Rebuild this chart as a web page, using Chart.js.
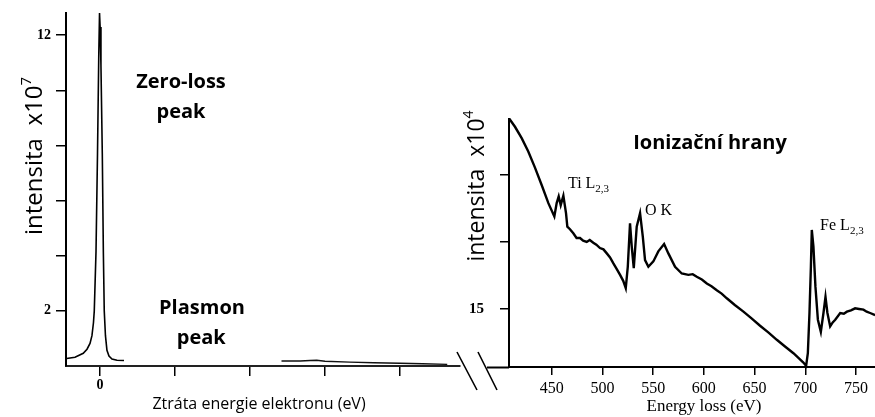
<!DOCTYPE html>
<html>
<head>
<meta charset="utf-8">
<script src="https://cdn.jsdelivr.net/npm/chart.js@4.4.1/dist/chart.umd.min.js"></script>
<style>
  html, body { margin: 0; padding: 0; background: #fff; }
  #wrap { position: relative; width: 875px; height: 417px; overflow: hidden; }
  canvas { position: absolute; top: 0; }
  #left { left: 0; }
  #right { left: 440px; }
</style>
</head>
<body>
<div id="wrap">
  <canvas id="left" width="470" height="417"></canvas>
  <canvas id="right" width="435" height="417"></canvas>
</div>
<script>
// ---------- Left panel: low-loss region (intensity x10^7) ----------
const zeroLossEnergy = [-4.44, -3.33, -2.23, -1.73, -1.33, -1.07, -0.87, -0.76, -0.53, -0.33, -0.16, -0.06, 0.02, 0.13, 0.31, 0.45, 0.57, 0.73, 0.93, 1.2, 1.6, 2.27, 3.2];
const zeroLossIntensity = [0.27, 0.32, 0.46, 0.61, 0.82, 1.1, 1.57, 2.0, 4.14, 7.7, 11.3, 12.8, 12.3, 10.9, 7.7, 4.14, 2.0, 1.1, 0.57, 0.36, 0.25, 0.21, 0.2];
const plasmonEnergy = [24.2, 26.7, 28.0, 28.9, 30.0, 33.3, 36.5, 40.0, 43.0, 46.3];
const plasmonIntensity = [0.18, 0.18, 0.2, 0.21, 0.17, 0.14, 0.12, 0.1, 0.08, 0.06];
const leftXTicks = [0, 10, 20, 30, 40];
const leftXLabels = {0: "0"};
const leftYTicks = [2, 4, 6, 8, 10, 12];
const leftYLabels = {2: "2", 12: "12"};

// ---------- Right panel: core-loss region (intensity x10^4) ----------
const coreEnergy = [408.2, 413.8, 420.4, 426.9, 433.5, 440.1, 446.7, 452.6, 454.9, 456.9, 458.9, 461.5, 464.1, 465.4, 468.0, 471.3, 474.5, 477.9, 481.0, 484.5, 487.5, 491.0, 494.0, 497.6, 501.0, 504.3, 507.5, 510.8, 514.0, 517.4, 520.5, 523.0, 525.0, 527.2, 528.9, 530.9, 533.8, 537.1, 539.8, 542.0, 545.3, 550.2, 555.1, 560.8, 565.0, 571.6, 578.2, 584.7, 589.0, 593.0, 598.0, 602.9, 607.5, 612.7, 617.5, 622.6, 630.5, 639.0, 647.0, 655.4, 663.5, 671.9, 680.0, 688.3, 694.0, 698.1, 700.8, 702.5, 704.1, 705.5, 706.4, 708.0, 710.0, 712.4, 715.3, 717.9, 719.9, 721.8, 724.5, 727.0, 729.5, 734.4, 738.0, 741.0, 745.0, 749.1, 753.0, 757.3, 760.5, 763.9, 768.8];
const coreIntensity = [43.4, 42.2, 40.5, 38.5, 36.1, 33.5, 30.8, 28.8, 30.8, 31.8, 30.5, 31.9, 29.3, 27.3, 26.9, 26.3, 25.6, 25.6, 25.2, 25.0, 25.3, 24.9, 24.6, 24.1, 23.9, 23.3, 22.7, 21.8, 21.0, 20.1, 19.2, 18.1, 21.3, 27.8, 24.3, 21.1, 27.3, 29.3, 25.8, 22.3, 21.3, 22.1, 23.6, 24.7, 23.3, 21.3, 20.3, 20.1, 20.2, 19.8, 19.4, 18.8, 18.4, 17.8, 17.3, 16.6, 15.6, 14.6, 13.6, 12.5, 11.5, 10.4, 9.4, 8.4, 7.6, 7.0, 6.5, 8.4, 14.4, 21.3, 26.8, 24.3, 18.3, 13.4, 11.6, 14.4, 16.8, 14.4, 12.4, 13.0, 13.4, 14.4, 14.3, 14.6, 14.8, 15.1, 15.0, 14.9, 14.6, 14.4, 14.1];
const rightXTicks = [450, 500, 550, 600, 650, 700, 750];
const rightYTicks = [15, 25, 35];
const rightYLabels = {15: "15"};

const toPoints = (xs, ys) => xs.map((x, i) => ({x: x, y: ys[i]}));

function drawSupText(ctx, x, y, parts, rotate, align) {
  ctx.save();
  ctx.translate(x, y);
  if (rotate) ctx.rotate(-Math.PI / 2);
  let total = 0;
  parts.forEach(p => { ctx.font = p.font; total += ctx.measureText(p.text).width; });
  let cx = align === 'left' ? 0 : -total / 2;
  ctx.textAlign = 'left';
  ctx.textBaseline = 'alphabetic';
  ctx.fillStyle = '#000';
  parts.forEach(p => {
    ctx.font = p.font;
    ctx.fillText(p.text, cx, p.dy || 0);
    cx += ctx.measureText(p.text).width;
  });
  ctx.restore();
}

const sans = '"Open Sans", "Lato", sans-serif';
const serif = '"Liberation Serif", "DejaVu Serif", serif';

const leftDecor = {
  id: 'leftDecor',
  afterDraw(chart) {
    const ctx = chart.ctx, xs = chart.scales.x, ys = chart.scales.y;
    ctx.save();
    ctx.fillStyle = '#000';
    ctx.textAlign = 'center';
    ctx.textBaseline = 'middle';
    ctx.font = 'bold 20px ' + sans;
    ctx.fillText('Zero-loss', xs.getPixelForValue(10.8), ys.getPixelForValue(10.3));
    ctx.fillText('peak', xs.getPixelForValue(10.8), ys.getPixelForValue(9.22));
    ctx.fillText('Plasmon', xs.getPixelForValue(13.6), ys.getPixelForValue(2.1));
    ctx.fillText('peak', xs.getPixelForValue(13.5), ys.getPixelForValue(1.0));
    ctx.font = '16px ' + sans;
    ctx.textBaseline = 'middle';
    ctx.fillText('Ztráta energie elektronu (eV)', 259, 404);
    ctx.restore();
    drawSupText(ctx, 42, 156, [
      {text: 'intensita  x10', font: '24px ' + sans},
      {text: '7', font: '15px ' + sans, dy: -11}
    ], true);
  }
};

const rightDecor = {
  id: 'rightDecor',
  afterDraw(chart) {
    const ctx = chart.ctx, xs = chart.scales.x, ys = chart.scales.y;
    const ox = 440;
    ctx.save();
    // axis break marks and axis stub
    ctx.strokeStyle = '#000';
    ctx.lineWidth = 1.6;
    ctx.beginPath();
    ctx.moveTo(457 - ox, 352); ctx.lineTo(477 - ox, 390);
    ctx.moveTo(478 - ox, 352); ctx.lineTo(497 - ox, 390);
    ctx.stroke();
    ctx.lineWidth = 2;
    ctx.beginPath();
    ctx.moveTo(487 - ox, ys.bottom + 0.5); ctx.lineTo(xs.left, ys.bottom + 0.5);
    ctx.stroke();
    ctx.fillStyle = '#000';
    ctx.textBaseline = 'middle';
    ctx.textAlign = 'center';
    ctx.font = 'bold 20px ' + sans;
    ctx.fillText('Ionizační hrany', xs.getPixelForValue(606), ys.getPixelForValue(39.8));
    ctx.font = '17px ' + serif;
    ctx.fillText('Energy loss (eV)', 704 - ox, 407);
    ctx.restore();
    const lab = (x, y, main, sub) => {
      const parts = [{text: main, font: '16px ' + serif}];
      if (sub) parts.push({text: sub, font: '11px ' + serif, dy: 4});
      drawSupText(ctx, x, y, parts, false, 'left');
    };
    lab(xs.getPixelForValue(466), ys.getPixelForValue(33.8) + 5, 'Ti L', '2,3');
    lab(xs.getPixelForValue(542), ys.getPixelForValue(29.8) + 5, 'O K');
    lab(xs.getPixelForValue(714.6), ys.getPixelForValue(27.5) + 5, 'Fe L', '2,3');
    drawSupText(ctx, 484 - ox, 186, [
      {text: 'intensita  x10', font: '23px ' + sans},
      {text: '4', font: '14px ' + sans, dy: -11}
    ], true);
  }
};

const axisCommon = {
  border: {display: true, color: '#000', width: 2},
};

new Chart(document.getElementById('left'), {
  type: 'line',
  data: {
    datasets: [
      {data: toPoints(zeroLossEnergy, zeroLossIntensity), borderColor: '#000', borderWidth: 1.6, pointRadius: 0, tension: 0, clip: 6},
      {data: toPoints(plasmonEnergy, plasmonIntensity), borderColor: '#111', borderWidth: 1.4, pointRadius: 0, tension: 0, clip: 6}
    ]
  },
  options: {
    responsive: false,
    animation: false,
    events: [],
    layout: {padding: {top: 8, right: 10, left: 0, bottom: 0}},
    plugins: {legend: {display: false}, tooltip: {enabled: false}, title: {display: false}},
    scales: {
      x: {
        type: 'linear', min: -4.53, max: 48,
        afterBuildTicks: s => { s.ticks = leftXTicks.map(v => ({value: v})); },
        afterFit: s => { s.height = 51; },
        ticks: {callback: v => leftXLabels[v] || '', color: '#000', font: {family: serif, size: 14, weight: 'bold'}, padding: 1, maxRotation: 0},
        grid: {display: true, drawOnChartArea: false, drawTicks: true, tickLength: 10, color: '#000', lineWidth: 1.5},
        border: {display: true, color: '#222', width: 2}
      },
      y: {
        type: 'linear', min: 0, max: 12.79,
        afterBuildTicks: s => { s.ticks = leftYTicks.map(v => ({value: v})); },
        afterFit: s => { s.width = 66; },
        ticks: {callback: v => leftYLabels[v] || '', color: '#000', font: {family: serif, size: 14, weight: 'bold'}, padding: 5},
        grid: {display: true, drawOnChartArea: false, drawTicks: true, tickLength: 10, color: '#000', lineWidth: 1.5},
        ...axisCommon
      }
    }
  },
  plugins: [leftDecor]
});

new Chart(document.getElementById('right'), {
  type: 'line',
  data: {
    datasets: [
      {data: toPoints(coreEnergy, coreIntensity), borderColor: '#000', borderWidth: 2.4, pointRadius: 0, tension: 0, clip: 6}
    ]
  },
  options: {
    responsive: false,
    animation: false,
    events: [],
    layout: {padding: {top: 119, right: 0, left: 0, bottom: 0}},
    plugins: {legend: {display: false}, tooltip: {enabled: false}, title: {display: false}},
    scales: {
      x: {
        type: 'linear', min: 407.9, max: 768.7,
        afterBuildTicks: s => { s.ticks = rightXTicks.map(v => ({value: v})); },
        afterFit: s => { s.height = 50; s.paddingRight = 0; s.paddingLeft = 0; },
        ticks: {color: '#000', font: {family: serif, size: 16}, padding: 4, maxRotation: 0},
        grid: {display: true, drawOnChartArea: false, drawTicks: true, tickLength: 8, color: '#000', lineWidth: 1.5},
        ...axisCommon
      },
      y: {
        type: 'linear', min: 6.34, max: 43.36,
        afterBuildTicks: s => { s.ticks = rightYTicks.map(v => ({value: v})); },
        afterFit: s => { s.width = 69; s.paddingTop = 0; s.paddingBottom = 0; },
        ticks: {callback: v => rightYLabels[v] || '', color: '#000', font: {family: serif, size: 15, weight: 'bold'}, padding: 16},
        grid: {display: true, drawOnChartArea: false, drawTicks: true, tickLength: 9, color: '#000', lineWidth: 1.5},
        ...axisCommon
      }
    }
  },
  plugins: [rightDecor]
});
</script>
</body>
</html>
